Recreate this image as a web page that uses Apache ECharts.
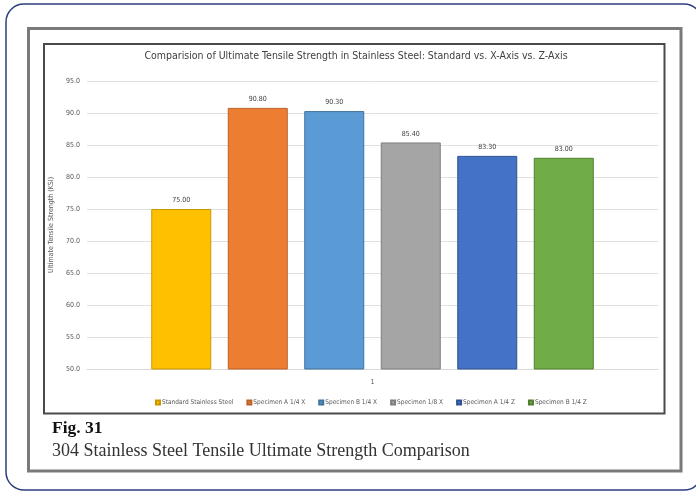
<!DOCTYPE html>
<html>
<head>
<meta charset="utf-8">
<script src="https://cdn.jsdelivr.net/npm/echarts@6/dist/echarts.min.js"></script>
<style>
  html, body { margin: 0; padding: 0; background: #ffffff; }
  #chart { width: 696px; height: 492px; }
</style>
</head>
<body>
<div id="chart"></div>
<script>
const categories = ['1'];
const seriesNames = [
  'Standard Stainless Steel',
  'Specimen A 1/4 X',
  'Specimen B 1/4 X',
  'Specimen 1/8 X',
  'Specimen A 1/4 Z',
  'Specimen B 1/4 Z'
];
const seriesValues = [75.00, 90.80, 90.30, 85.40, 83.30, 83.00];
const seriesColors = ['#FFC000', '#ED7D31', '#5B9BD5', '#A5A5A5', '#4472C4', '#70AD47'];
const borderColors = ['#C99700', '#B9612A', '#41719C', '#7F7F7F', '#2F528F', '#507E32'];
const yTicks = { min: 50, max: 95, interval: 5 };
const chartTitle = 'Comparision of Ultimate Tensile Strength in Stainless Steel: Standard vs. X-Axis vs. Z-Axis';
const yAxisTitle = 'Ultimate Tensile Strength (KSI)';
const figLabel = 'Fig. 31';
const figCaption = '304 Stainless Steel Tensile Ultimate Strength Comparison';

const narrow = "'Liberation Sans Narrow', 'DejaVu Sans Condensed', 'Liberation Sans', sans-serif";
const serif = "'Liberation Serif', 'DejaVu Serif', serif";

const chart = echarts.init(document.getElementById('chart'), null, { renderer: 'canvas' });

const series = seriesNames.map((name, i) => ({
  name: name,
  type: 'bar',
  data: [seriesValues[i]],
  barWidth: 60,
  barGap: '27.5%',
  itemStyle: { color: seriesColors[i], borderColor: borderColors[i], borderWidth: 1 },
  label: {
    show: true,
    position: 'top',
    distance: 5,
    fontFamily: narrow,
    fontSize: 7,
    color: '#404040',
    formatter: p => p.value.toFixed(2)
  },
  emphasis: { disabled: true }
}));

chart.setOption({
  backgroundColor: '#ffffff',
  animation: false,
  title: {
    text: chartTitle,
    left: 356,
    top: 51,
    textAlign: 'center',
    padding: 0,
    textStyle: { fontFamily: narrow, fontSize: 10.5, fontWeight: 'normal', color: '#404040' }
  },
  legend: {
    data: seriesNames,
    left: 155,
    top: 399,
    padding: 0,
    icon: 'rect',
    itemWidth: 4,
    itemHeight: 4,
    itemGap: 13,
    textStyle: { fontFamily: narrow, fontSize: 6.5, color: '#595959', padding: [0, 0, 0, -3] }
  },
  grid: { left: 87, right: 38, top: 81, bottom: 123, containLabel: false },
  xAxis: {
    type: 'category',
    data: categories,
    axisLine: { show: true, lineStyle: { color: '#d9d9d9', width: 1 } },
    axisTick: { show: false },
    axisLabel: { fontFamily: narrow, fontSize: 7, color: '#595959', margin: 10 }
  },
  yAxis: {
    type: 'value',
    min: yTicks.min,
    max: yTicks.max,
    interval: yTicks.interval,
    name: yAxisTitle,
    nameLocation: 'middle',
    nameGap: 27,
    nameTextStyle: { fontFamily: narrow, fontSize: 7, color: '#595959' },
    axisLine: { show: false },
    axisTick: { show: false },
    axisLabel: { fontFamily: narrow, fontSize: 7, color: '#595959', margin: 7, formatter: v => v.toFixed(1) },
    splitLine: { lineStyle: { color: '#e0e0e0', width: 1 } }
  },
  series: series,
  graphic: [
    {
      type: 'rect', silent: true, z: -10,
      shape: { x: 6, y: 4, width: 696, height: 486, r: 18 },
      style: { fill: 'none', stroke: '#2b3f7e', lineWidth: 1.5 }
    },
    {
      type: 'rect', silent: true, z: -10,
      shape: { x: 28.5, y: 28.5, width: 652.5, height: 442.5 },
      style: { fill: 'none', stroke: '#7a7a7a', lineWidth: 3 }
    },
    {
      type: 'rect', silent: true, z: -10,
      shape: { x: 44, y: 44, width: 620.5, height: 369.5 },
      style: { fill: 'none', stroke: '#4a4a4a', lineWidth: 2 }
    },
    {
      type: 'text', silent: true,
      x: 52, y: 428,
      style: { text: figLabel, fontFamily: serif, fontSize: 17.5, fontWeight: 'bold', fill: '#111111', verticalAlign: 'middle' }
    },
    {
      type: 'text', silent: true,
      x: 52, y: 451,
      style: { text: figCaption, fontFamily: serif, fontSize: 18, fill: '#333333', verticalAlign: 'middle' }
    }
  ]
});
</script>
</body>
</html>
